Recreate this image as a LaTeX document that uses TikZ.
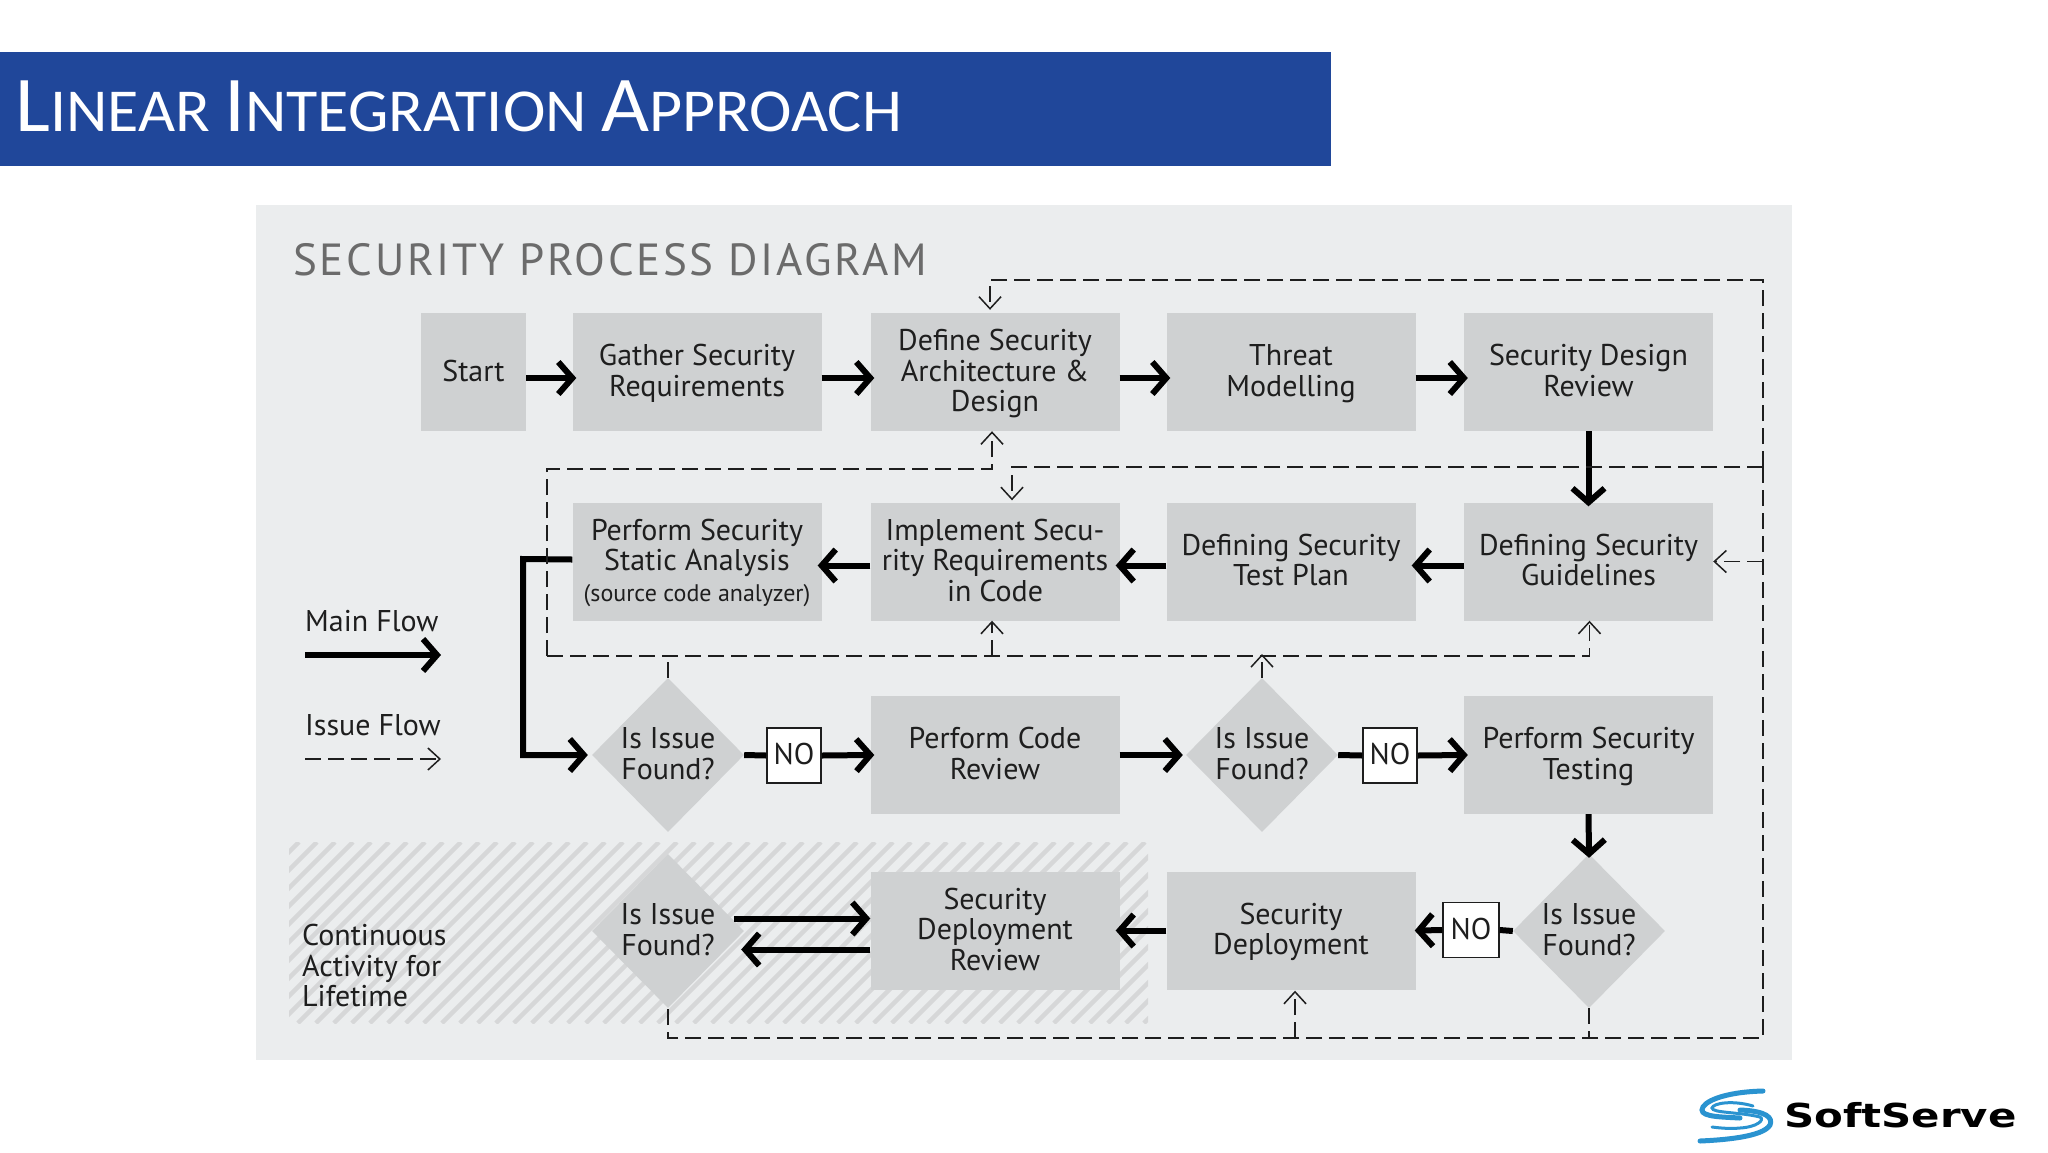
\documentclass[tikz,border=0pt]{standalone}
\usepackage{fontspec}
\setmainfont{PT Sans}
\newfontfamily\bannerfont[FakeStretch=1.05]{Carlito}
\newfontfamily\spacedfont[LetterSpace=6]{PT Sans}
\newfontfamily\logofont[FakeStretch=1.27]{DejaVu Sans}
\usetikzlibrary{arrows.meta,shapes.geometric}
\definecolor{bannerblue}{HTML}{20479A}
\definecolor{panelgrey}{HTML}{EBEDEE}
\definecolor{boxgrey}{HTML}{CFD1D2}
\definecolor{hatchgrey}{HTML}{D6D7D8}
\definecolor{textdark}{HTML}{1E1E1E}
\definecolor{logoblue}{HTML}{2A93D0}
\tikzset{
  txt/.style={font=\fontsize{30}{30.5}\selectfont,text=textdark,align=center,inner sep=0pt,text depth=3pt},
  procbox/.style={txt,fill=boxgrey,minimum width=249pt,minimum height=118pt},
  decision/.style={txt,diamond,aspect=1,fill=boxgrey,minimum width=152pt,minimum height=154pt},
  nobox/.style={txt,draw=textdark,line width=1.5pt,fill=white,minimum height=55pt,minimum width=54pt},
  mainflow/.style={draw=black,line width=6pt,shorten >=-4pt,-{Straight Barb[length=14pt,width=32pt]}},
  mainline/.style={draw=black,line width=6pt},
  issueline/.style={draw=textdark,line width=1.8pt,dash pattern=on 16pt off 7pt},
  issueflow/.style={issueline,-{Straight Barb[length=12pt,width=22pt,line width=1.5pt]}},
  hatchline/.style={draw=hatchgrey,line width=4.5pt}
}
\begin{document}
\begin{tikzpicture}[x=1pt,y=-1pt]
\useasboundingbox (0,0) rectangle (2048,1152);
\fill[white] (0,0) rectangle (2048,1152);
\fill[bannerblue] (0,52) rectangle (1331,166);
\fill[panelgrey] (256,205) rectangle (1792,1060);

% hatched strip
\begin{scope}
\clip (289,842) rectangle (1148,1023);
\foreach \hx in {100,118,...,1160} {
  \draw[hatchline] (\hx,1023) -- ++(181,-181);
}
\end{scope}

\node[anchor=base west,text=white,inner sep=0pt] (heading) at (15,131) {\bannerfont
  \fontsize{79}{79}\selectfont L\fontsize{61}{61}\selectfont INEAR
  \fontsize{79}{79}\selectfont I\fontsize{61}{61}\selectfont NTEGRATION
  \fontsize{79}{79}\selectfont A\fontsize{61}{61}\selectfont PPROACH};
\node[anchor=base west,inner sep=0pt,text=black!58] (subhead) at (293,275)
  {\spacedfont\fontsize{45}{45}\selectfont SECURITY PROCESS DIAGRAM};

% first row
\node[procbox,minimum width=105pt] (start) at (473.5,372) {Start};
\node[procbox] (gather) at (697,372) {Gather Security\\Requirements};
\node[procbox] (define) at (995,372) {Define Security\\Architecture \&\\Design};
\node[procbox] (threat) at (1291,372) {Threat\\Modelling};
\node[procbox] (review) at (1588.5,372) {Security Design\\Review};

% second row
\node[procbox] (analysis) at (697,561.5) {Perform Security\\Static Analysis\\{\fontsize{24}{30.5}\selectfont (source code analyzer)}};
\node[procbox] (impl) at (995,561.5) {Implement Secu-\\rity Requirements\\in Code};
\node[procbox] (testplan) at (1291,561.5) {Defining Security\\Test Plan};
\node[procbox] (guidelines) at (1588.5,561.5) {Defining Security\\Guidelines};

% third row
\node[decision] (isa) at (668,755) {Is Issue\\Found?};
\node[nobox] (noa) at (794,755.5) {NO};
\node[procbox] (code) at (995,755) {Perform Code\\Review};
\node[decision] (isb) at (1262,755) {Is Issue\\Found?};
\node[nobox] (nob) at (1390,755.5) {NO};
\node[procbox] (testing) at (1588.5,755) {Perform Security\\Testing};

% fourth row
\node[decision] (isc) at (1589,931) {Is Issue\\Found?};
\node[nobox,minimum width=56pt] (noc) at (1471,930) {NO};
\node[procbox] (deploy) at (1291,930.5) {Security\\Deployment};
\node[procbox] (deprev) at (995,930.5) {Security\\Deployment\\Review};
\node[decision] (isd) at (668,931) {Is Issue\\Found?};

% legend
\node[txt,anchor=west] (mainlab) at (305,622) {Main Flow};
\coordinate (mainl) at (305,655);
\coordinate (mainr) at (437,655);
\node[txt,anchor=west] (issuelab) at (305,726) {Issue Flow};
\coordinate (issuel) at (305,759);
\coordinate (issuer) at (441,759);
\node[txt,anchor=west,align=left] (lifetime) at (302,967) {Continuous\\Activity for\\Lifetime};
\draw[mainflow] (mainl) -- (mainr);
\draw[issueflow] (issuel) -- (issuer);

% main flow
\draw[mainflow] ([yshift=-6pt]start.east) -- ([yshift=-6pt]gather.west);
\draw[mainflow] ([yshift=-6pt]gather.east) -- ([yshift=-6pt]define.west);
\draw[mainflow] ([yshift=-6pt]define.east) -- ([yshift=-6pt]threat.west);
\draw[mainflow] ([yshift=-6pt]threat.east) -- ([yshift=-6pt]review.west);
\draw[mainflow] (review.south) -- (guidelines.north);
\draw[mainflow] ([yshift=-4pt]guidelines.west) -- ([yshift=-4pt]testplan.east);
\draw[mainflow] ([yshift=-4pt]testplan.west) -- ([yshift=-4pt]impl.east);
\draw[mainflow] ([yshift=-4pt]impl.west) -- ([yshift=-4pt]analysis.east);
\coordinate (bendtop) at (523,559);
\draw[mainflow] ([yshift=2pt]analysis.west) -- (bendtop) |- ([xshift=-8pt]isa.west);
\draw[mainline] (isa.east) -- (noa.west);
\draw[mainflow] (noa.east) -- (code.west);
\draw[mainflow] (code.east) -- ([xshift=-7pt]isb.west);
\draw[mainline] (isb.east) -- (nob.west);
\draw[mainflow] (nob.east) -- (testing.west);
\draw[mainflow] (testing.south) -- (isc.north);
\draw[mainline] (isc.west) -- (noc.east);
\draw[mainflow] (noc.west) -- ([xshift=3pt]deploy.east);
\draw[mainflow] (deploy.west) -- (deprev.east);
\draw[mainflow] ([xshift=-10pt,yshift=12pt]isd.east |- deprev.west) -- ([xshift=-4pt,yshift=12pt]deprev.west);
\draw[mainflow] ([yshift=-19pt]deprev.west) -- ([xshift=1pt,yshift=-19pt]isd.east |- deprev.west);

% issue flow
\coordinate (jr) at (1763,467);
\coordinate (jt) at (1763,280);
\coordinate (jb) at (1763,1038);
\coordinate (ll) at (547,656);
\coordinate (lt) at (547,469);
\draw[issueflow] (jr) -- (jt) -| ([xshift=-5pt,yshift=3pt]define.north);
\draw[issueflow] (jr) -| ([xshift=17pt,yshift=2pt]impl.north);
\draw[issueline] (jr) -- (jb) -| (isd.south);
\draw[issueline] (isc.south) -- (isc.south |- jb);
\draw[issueflow] ([xshift=4pt]deploy.south |- jb) -- ([xshift=4pt,yshift=-1pt]deploy.south);
\draw[issueflow] (guidelines.east -| jr) -- (guidelines.east);
\draw[issueline] (isa.north) -- (isa.north |- ll);
\draw[issueflow] (ll) -- (lt) -| ([xshift=-3pt]define.south);
\draw[issueflow] (ll) -| ([xshift=1pt]guidelines.south);
\draw[issueflow] ([xshift=-3pt]impl.south |- ll) -- ([xshift=-3pt]impl.south);
\draw[issueflow] (isb.north) -- ([yshift=2pt]isb.north |- ll);

% logo
\node[anchor=base west,inner sep=0pt,text=black] (softserve) at (1784,1127)
  {\logofont\bfseries\fontsize{33}{33}\selectfont SoftServe};
\draw[logoblue,line width=5pt,line cap=round] (1763,1091) .. controls (1723,1092) and (1702,1102) .. (1702,1110)
  .. controls (1702,1117) and (1723,1117) .. (1740,1118);
\draw[logoblue,line width=3pt,line cap=round] (1753,1106) .. controls (1733,1100) and (1713,1103) .. (1712,1108)
  .. controls (1712,1113) and (1740,1112) .. (1760,1117) .. controls (1765,1120) and (1757,1127) .. (1740,1128)
  .. controls (1730,1129) and (1720,1128) .. (1712,1127);
\draw[logoblue,line width=5pt,line cap=round] (1740,1110) .. controls (1767,1111) and (1773,1118) .. (1770,1125)
  .. controls (1763,1137) and (1723,1140) .. (1700,1141);
\end{tikzpicture}
\end{document}
